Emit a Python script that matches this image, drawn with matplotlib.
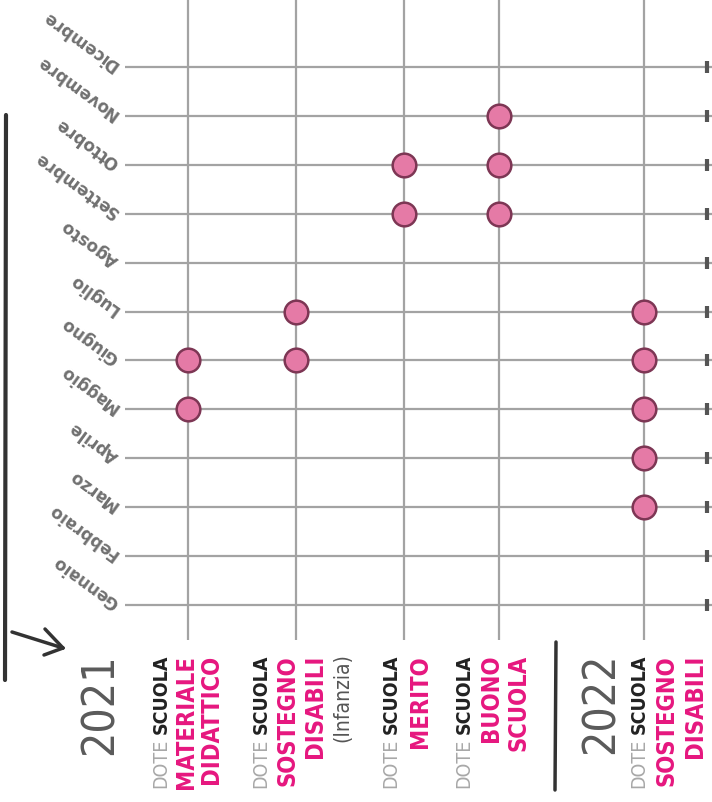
import matplotlib
matplotlib.use("Agg")
import matplotlib.pyplot as plt
import matplotlib.transforms as mtransforms
from matplotlib import font_manager
from matplotlib.lines import Line2D

# dati
mesi = ['Gennaio', 'Febbraio', 'Marzo', 'Aprile', 'Maggio', 'Giugno',
        'Luglio', 'Agosto', 'Settembre', 'Ottobre', 'Novembre', 'Dicembre']
anni = ['2021', '2022']
misure = ['Materiale didattico', 'Sostegno disabili (Infanzia)', 'Merito',
          'Buono scuola', 'Sostegno disabili']
anno_misura = ['2021', '2021', '2021', '2021', '2022']
righe_rosa = [['MATERIALE', 'DIDATTICO'], ['SOSTEGNO', 'DISABILI'], ['MERITO'],
              ['BUONO', 'SCUOLA'], ['SOSTEGNO', 'DISABILI']]
note = ['', '(Infanzia)', '', '', '']
mesi_attivi = [['Maggio', 'Giugno'],
               ['Giugno', 'Luglio'],
               ['Settembre', 'Ottobre'],
               ['Settembre', 'Ottobre', 'Novembre'],
               ['Marzo', 'Aprile', 'Maggio', 'Giugno', 'Luglio']]

# layout (posizioni delle colonne e delle etichette, in px)
pos = [0, 1, 2, 2.88, 4.22]
px_unit = 108.0
label_off = [-27, -35, -13, -35, -5]   # prima riga rispetto alla colonna
line_gap = [25, 27, 29, 27, 28]

PINK = '#e6177f'
DOT = '#e57aa6'
DOT_EDGE = '#7d3654'
GRID = '#a3a3a3'

names = {f.name for f in font_manager.fontManager.ttflist}
cond = [f for f in font_manager.fontManager.ttflist
        if f.name == 'DejaVu Sans' and 'condensed' in str(f.stretch)]
if 'Liberation Sans Narrow' in names:
    NARROW = dict(family='Liberation Sans Narrow')
elif cond:
    NARROW = dict(family='DejaVu Sans', stretch='condensed')
elif 'Roboto Condensed' in names:
    NARROW = dict(family='Roboto Condensed')
else:
    NARROW = dict(family='DejaVu Sans')

fig = plt.figure(figsize=(7.12, 8.02), dpi=100)
W, H = 712.0, 802.0
ax = fig.add_axes([125 / W, 1 - 640 / H, 1 - 125 / W, 640 / H])

x0 = (125 - 188) / px_unit
x1 = (712 - 188) / px_unit
ax.set_xlim(x0, x1)
y_lo = -(640 - 605) / 48.9
y_hi = 11 + 67 / 48.9
ax.set_ylim(y_lo, y_hi)

ax.set_xticks(pos)
ax.set_yticks(range(len(mesi)))
ax.grid(True, color=GRID, lw=1.6)
ax.set_axisbelow(True)
ax.tick_params(length=0, labelbottom=False, labelleft=False)
for s in ax.spines.values():
    s.set_visible(False)

# trattini a destra
tr_right = mtransforms.blended_transform_factory(ax.transAxes, ax.transData)
ax.scatter([0.992] * len(mesi), range(len(mesi)), transform=tr_right,
           marker='|', s=80, linewidths=3, color='#555555', clip_on=False)

# punti
for p, attivi in zip(pos, mesi_attivi):
    ys = [mesi.index(m) for m in attivi]
    ax.scatter([p] * len(ys), ys, s=290, color=DOT, edgecolor=DOT_EDGE,
               linewidths=1.8, zorder=3)

# etichette dei mesi (ruotate)
for i, m in enumerate(mesi):
    ax.text(-0.014, i, m, transform=tr_right, rotation=144,
            rotation_mode='anchor', ha='left', va='center',
            fontsize=12, fontweight='bold', color='#707070')

# etichette in basso (allineate in alto)
tr_bot = mtransforms.blended_transform_factory(ax.transData, fig.transFigure)
y_top = 1 - 655 / H
for k, p in enumerate(pos):
    xs = p + label_off[k] / px_unit
    gap = line_gap[k] / px_unit
    t = ax.text(xs, y_top, 'SCUOLA', transform=tr_bot, rotation=90,
                rotation_mode='anchor', ha='right', va='center',
                fontsize=14, fontweight='bold', color='#222222', **NARROW)
    ax.annotate('DOTE', xy=(0.5, 0.0), xycoords=t, xytext=(0, -3),
                textcoords='offset points', rotation=90,
                rotation_mode='anchor', ha='right', va='center',
                fontsize=14, color='#a8a8a8', **NARROW)
    for j, r in enumerate(righe_rosa[k]):
        ax.text(xs + (j + 1) * gap, y_top, r, transform=tr_bot,
                rotation=90, rotation_mode='anchor', ha='right', va='center',
                fontsize=17, fontweight='bold', color=PINK, **NARROW)
    if note[k]:
        xn = xs + (len(righe_rosa[k]) + 1) * gap
        ax.text(xn, 1 - 653 / H, note[k], transform=tr_bot, rotation=90,
                rotation_mode='anchor', ha='right', va='center',
                fontsize=15, color='#555555', **NARROW)

# anni
anno_x = [100, 601]
for a, xp in zip(anni, anno_x):
    fig.text(xp / W, 1 - 653 / H, a, rotation=90, rotation_mode='anchor',
             ha='right', va='center', fontsize=32, color='#5a5a5a',
             fontweight='light', **NARROW)

# segni a mano: linea a sinistra, freccia, separatore
def fline(xs, ys, lw=2.5, c='#333333'):
    fig.add_artist(Line2D([x / W for x in xs], [1 - y / H for y in ys],
                          transform=fig.transFigure, lw=lw, color=c,
                          solid_capstyle='round'))

fline([6, 5], [115, 680], lw=3)
fline([12, 63], [632, 648], lw=2.5)
fline([45, 63], [629, 648], lw=2.5)
fline([44, 63], [655, 648], lw=2.5)
fline([556, 555], [642, 790], lw=2.5)

fig.savefig('out.png', dpi=100, facecolor='white')
